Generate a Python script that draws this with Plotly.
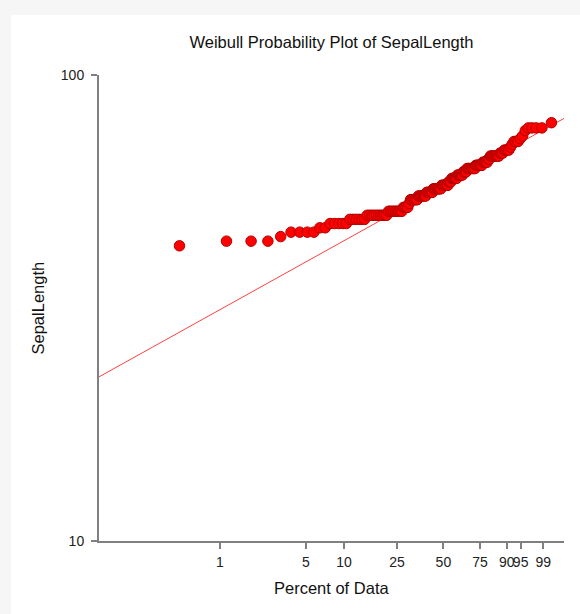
import numpy as np
import plotly.graph_objects as go

# Iris sepal length (mm): distinct values and how often each occurs
sepal_values = [43, 44, 45, 46, 47, 48, 49, 50, 51, 52, 53, 54, 55, 56, 57, 58, 59,
                60, 61, 62, 63, 64, 65, 66, 67, 68, 69, 70, 71, 72, 73, 74, 76, 77, 79]
sepal_counts = [1, 3, 1, 4, 2, 5, 6, 10, 9, 4, 1, 6, 7, 6, 8, 7, 3,
                6, 6, 4, 9, 7, 5, 2, 8, 3, 4, 1, 1, 3, 1, 1, 1, 4, 1]

# Percent ticks on the probability axis
pct_ticks = [1, 5, 10, 25, 50, 75, 90, 95, 99]
pct_labels = ["1", "5", "10", "25", "50", "75", "90", "95", "99"]

# Fitted Weibull reference line (shape, scale)
weib_shape = 6.9
weib_scale = 61.1

FONT = "Arial, Liberation Sans, sans-serif"


def weibull_q(p):
    p = np.asarray(p, dtype=float)
    return np.log(-np.log(1.0 - p))


data = np.repeat(sepal_values, sepal_counts).astype(float)
n = len(data)
ranks = np.arange(1, n + 1)
median_rank = (ranks - 0.3) / (n + 0.4)
xw = weibull_q(median_rank)

x_lo, x_hi = -6.893, 1.919
line_x = np.array([x_lo, x_hi])
line_y = weib_scale * np.exp(line_x / weib_shape)

fig = go.Figure()

fig.add_trace(go.Scatter(
    x=line_x, y=line_y, mode="lines",
    line=dict(color="rgba(255,0,0,0.75)", width=1),
    hoverinfo="skip", showlegend=False,
))

fig.add_trace(go.Scatter(
    x=xw, y=data, mode="markers",
    marker=dict(size=10.5, color="#ff0000", line=dict(color="#b40000", width=1)),
    showlegend=False,
))

fig.update_layout(
    width=580, height=614,
    margin=dict(l=99, r=16, t=75, b=73),
    paper_bgcolor="#f6f6f6",
    plot_bgcolor="white",
    font=dict(family=FONT, color="#111111", size=14),
    title=dict(
        text="Weibull Probability Plot of SepalLength",
        x=0.5, xref="paper", xanchor="center",
        y=1 - 42 / 614, yref="container", yanchor="middle",
        font=dict(family=FONT, size=16.5, color="#111111"),
    ),
    shapes=[dict(
        type="rect", xref="paper", yref="paper", layer="below",
        x0=(11 - 99) / 465, x1=(580 - 99) / 465,
        y0=-(614 - 541) / 466, y1=1 + (75 - 15) / 466,
        fillcolor="white", line=dict(width=0),
    )],
    annotations=[
        dict(text="Percent of Data", xref="paper", yref="paper",
             x=0.5, y=-(588 - 541) / 466, xanchor="center", yanchor="middle",
             showarrow=False, font=dict(family=FONT, size=16.5, color="#111111")),
        dict(text="SepalLength", xref="paper", yref="paper",
             x=(37.5 - 99) / 465, y=0.5, xanchor="center", yanchor="middle",
             textangle=-90, showarrow=False,
             font=dict(family=FONT, size=16.5, color="#111111")),
    ],
)

fig.update_xaxes(
    range=[x_lo, x_hi],
    tickmode="array",
    tickvals=weibull_q(np.array(pct_ticks) / 100.0),
    ticktext=pct_labels,
    tickangle=0,
    ticks="outside", ticklen=6, tickcolor="#808080", tickwidth=1.5,
    ticklabelstandoff=1,
    showline=True, linecolor="#808080", linewidth=1.5,
    showgrid=False, zeroline=False,
    tickfont=dict(family=FONT, size=14, color="#222222"),
)

fig.update_yaxes(
    type="log",
    range=[1, 2],
    tickmode="array",
    tickvals=[10, 100],
    ticktext=["10", "100"],
    ticks="outside", ticklen=6, tickcolor="#808080", tickwidth=1.5,
    ticklabelstandoff=4,
    showline=True, linecolor="#808080", linewidth=2,
    showgrid=False, zeroline=False,
    tickfont=dict(family=FONT, size=14, color="#222222"),
)

fig.write_html("out.html")
